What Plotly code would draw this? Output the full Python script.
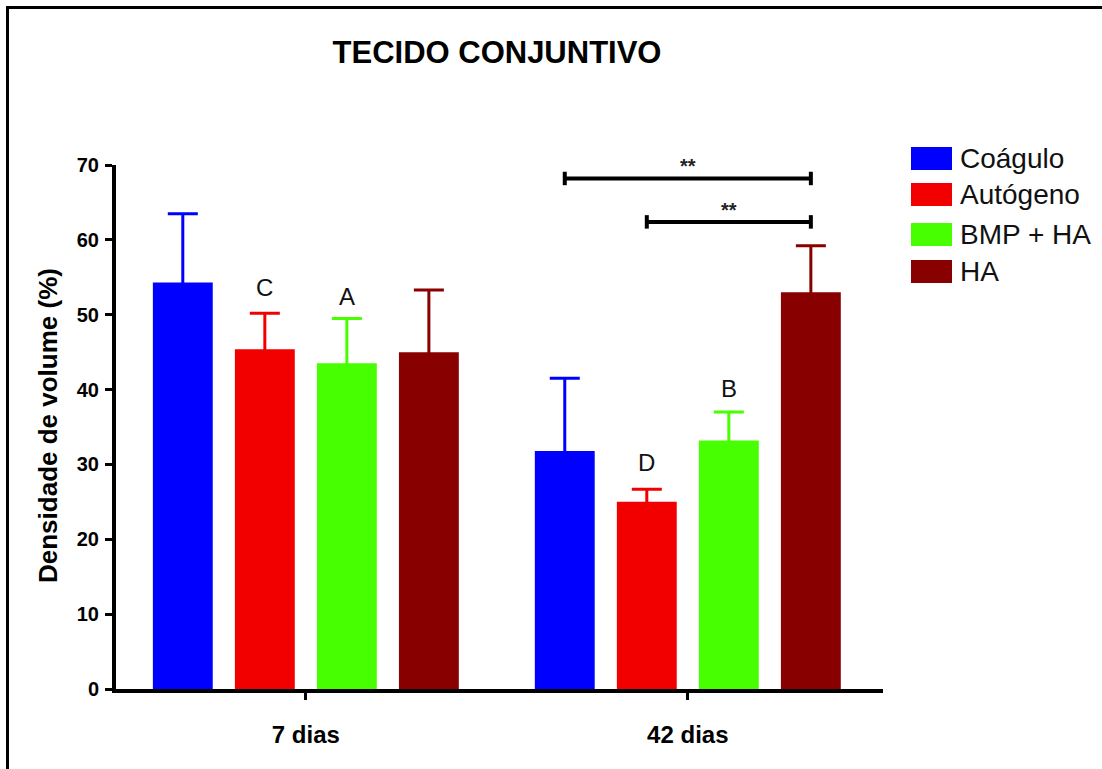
import plotly.graph_objects as go

# ---- data ----
groups = ["7 dias", "42 dias"]
series_names = ["Coágulo", "Autógeno", "BMP + HA", "HA"]
series_colors = ["#0000ff", "#f20000", "#47ff00", "#880000"]
means = {
    "Coágulo": [54.3, 31.8],
    "Autógeno": [45.4, 25.0],
    "BMP + HA": [43.5, 33.2],
    "HA": [45.0, 53.0],
}
errors_up = {
    "Coágulo": [9.2, 9.7],
    "Autógeno": [4.8, 1.7],
    "BMP + HA": [6.0, 3.8],
    "HA": [8.3, 6.2],
}
letters = [("C", 0, 1, 53.6), ("A", 0, 2, 52.5), ("D", 1, 1, 30.2), ("B", 1, 2, 40.1)]
brackets = [(1, 0, 3, 68.2), (1, 1, 3, 62.4)]  # group, from series, to series, line y
y_ticks = [0, 10, 20, 30, 40, 50, 60, 70]

# ---- layout constants ----
W, H = 1102, 769
L, R, T, B = 116, 883, 165, 689
bargap, bargroupgap = 0.141, 0.27
slot = (1 - bargap) / len(series_names)
FONT = "Liberation Sans, Arial, sans-serif"


def px_x(px):
    return (px - L) / (R - L)


def px_y(py):
    return (B - py) / (B - T)


def bar_center(g, s):
    return g + (s - (len(series_names) - 1) / 2) * slot


fig = go.Figure()
for name, col in zip(series_names, series_colors):
    # symmetric error bar in the bar's colour: the lower half is hidden inside the bar
    fig.add_trace(go.Bar(
        x=groups, y=means[name], name=name, marker=dict(color=col, line=dict(width=0)),
        error_y=dict(type="data", array=errors_up[name], color=col, thickness=3, width=15),
        showlegend=False,
    ))

shapes = []
annotations = []

# significance letters
for txt, g, s, yv in letters:
    annotations.append(dict(x=bar_center(g, s), y=yv, xref="x", yref="y", text=txt,
                            showarrow=False, font=dict(family=FONT, size=24, color="#111")))

# brackets
for g, s0, s1, yl in brackets:
    x0, x1 = bar_center(g, s0), bar_center(g, s1)
    shapes.append(dict(type="line", xref="x", yref="y", x0=x0, x1=x1, y0=yl, y1=yl,
                       line=dict(color="black", width=4)))
    for xx in (x0, x1):
        shapes.append(dict(type="line", xref="x", yref="y", x0=xx, x1=xx, y0=yl - 0.9, y1=yl + 0.9,
                           line=dict(color="black", width=4)))
    annotations.append(dict(x=(x0 + x1) / 2, y=yl, xref="x", yref="y", text="<b>**</b>",
                            showarrow=False, yanchor="middle", yshift=12,
                            font=dict(family=FONT, size=20, color="#222")))

# manual legend
leg_tops = [147, 183, 223, 260]
for name, col, top in zip(series_names, series_colors, leg_tops):
    shapes.append(dict(type="rect", xref="paper", yref="paper",
                       x0=px_x(911), x1=px_x(952), y0=px_y(top + 23), y1=px_y(top),
                       fillcolor=col, line=dict(width=0)))
    annotations.append(dict(x=px_x(958), y=px_y(top + 11.5), xref="paper", yref="paper",
                            text=name, showarrow=False, xanchor="left", yanchor="middle",
                            font=dict(family=FONT, size=28, color="#111")))

# y-axis title
annotations.append(dict(x=px_x(48), y=px_y(426), xref="paper", yref="paper",
                        text="Densidade de volume (%)", textangle=-90, showarrow=False,
                        xanchor="center", yanchor="middle",
                        font=dict(family=FONT, size=26, color="black", weight="bold")))

# frame lines (left and top)
shapes.append(dict(type="line", xref="paper", yref="paper", x0=px_x(7.5), x1=px_x(7.5),
                   y0=px_y(6), y1=px_y(H), line=dict(color="black", width=3)))
shapes.append(dict(type="line", xref="paper", yref="paper", x0=px_x(6), x1=px_x(W),
                   y0=px_y(7.5), y1=px_y(7.5), line=dict(color="black", width=3)))

fig.update_layout(
    width=W, height=H,
    margin=dict(l=L, r=W - R, t=T, b=H - B, autoexpand=False),
    paper_bgcolor="white", plot_bgcolor="white",
    barmode="group", bargap=bargap, bargroupgap=bargroupgap,
    title=dict(text="TECIDO CONJUNTIVO", x=497 / W, y=1 - 52 / H, xanchor="center",
               yanchor="middle", xref="container", yref="container",
               font=dict(family=FONT, size=31, color="black", weight="bold")),
    shapes=shapes, annotations=annotations,
    xaxis=dict(range=[-0.497, 1.511], showline=True, linecolor="black", linewidth=4,
               ticks="outside", ticklen=7, tickwidth=3, tickcolor="black", showgrid=False,
               zeroline=False, tickfont=dict(family=FONT, size=24, color="black", weight="bold"),
               ticklabelstandoff=14),
    yaxis=dict(range=[0, 70], tickvals=y_ticks, showline=True, linecolor="black", linewidth=4,
               ticks="outside", ticklen=7, tickwidth=3, tickcolor="black", showgrid=False,
               zeroline=False, tickfont=dict(family=FONT, size=20, color="black", weight="bold"),
               ticklabelstandoff=2),
)

fig.write_html("out.html", config={"displayModeBar": False},
               post_script="document.body.style.margin='0';document.body.style.overflow='hidden';")
